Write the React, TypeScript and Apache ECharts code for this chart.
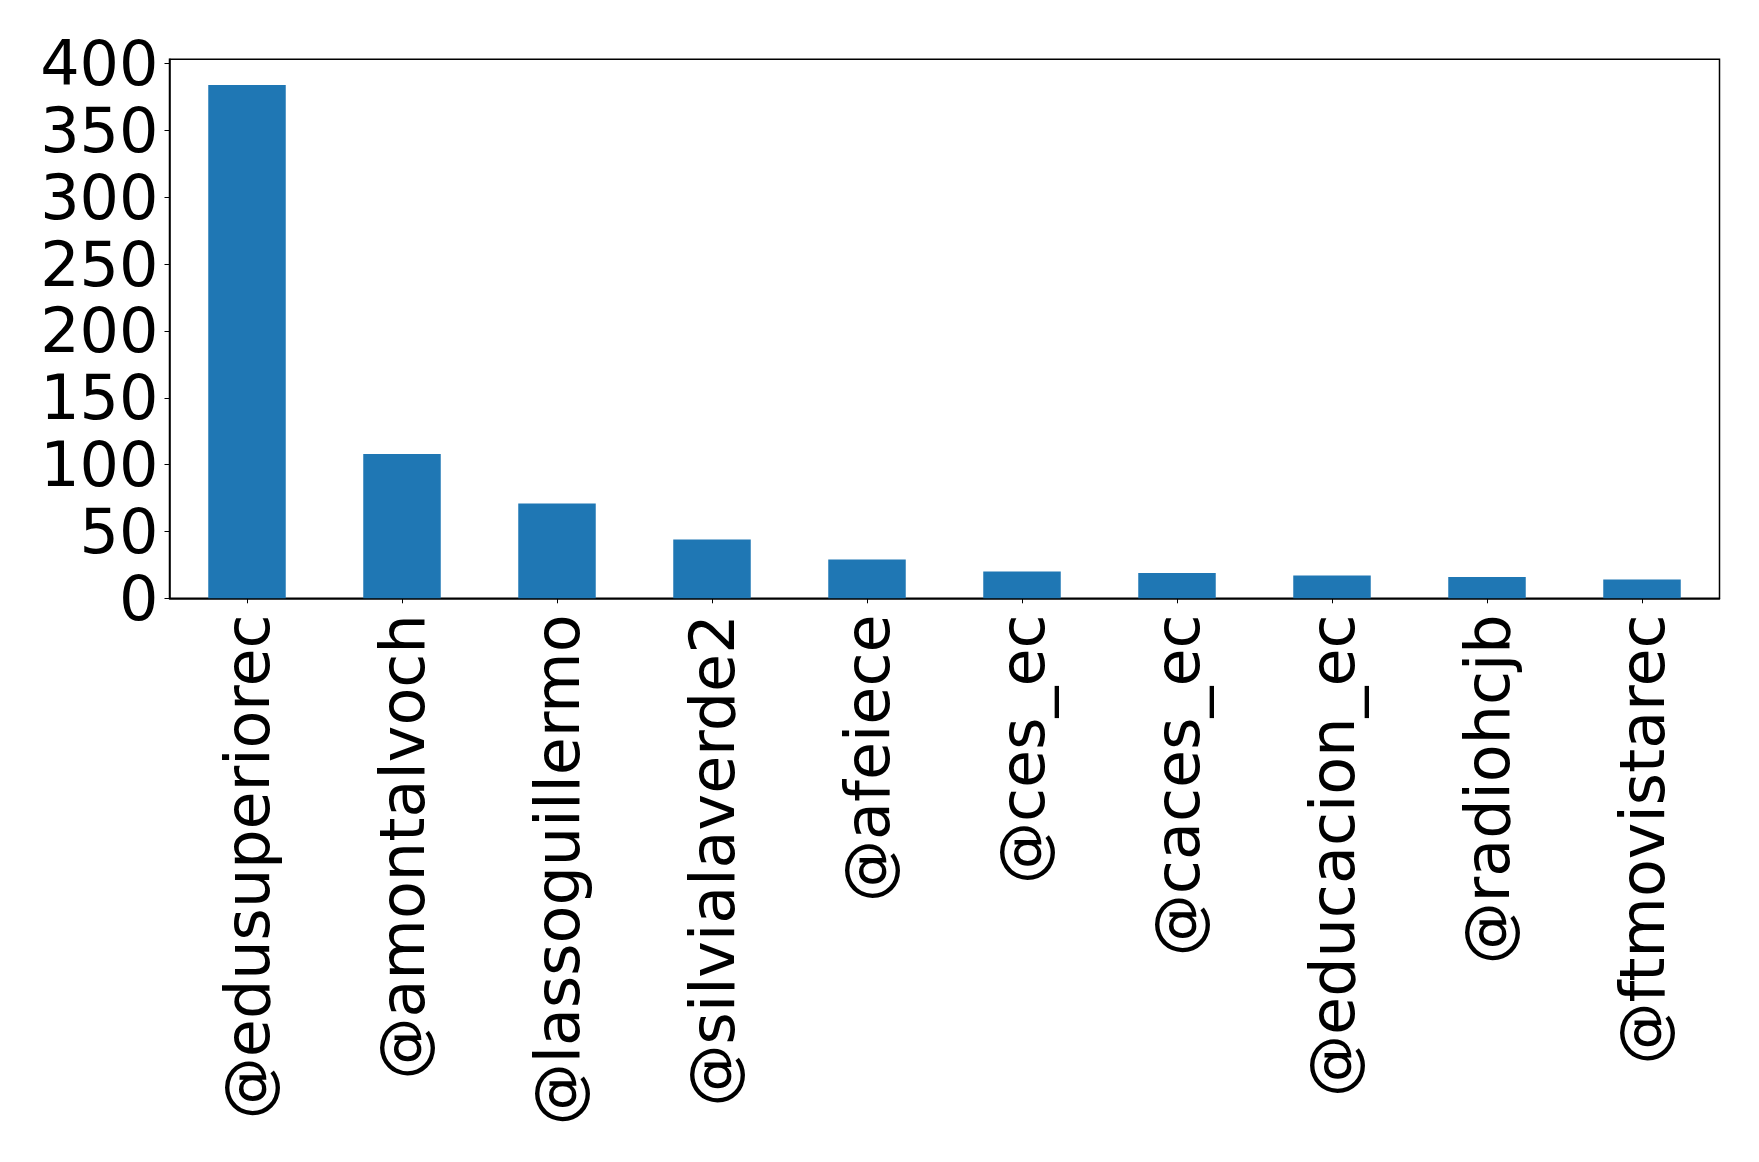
import React, { useEffect, useRef } from "react";
import * as echarts from "echarts";

const handles = [
  "@edusuperiorec",
  "@amontalvoch",
  "@lassoguillermo",
  "@silvialaverde2",
  "@afeiece",
  "@ces_ec",
  "@caces_ec",
  "@educacion_ec",
  "@radiohcjb",
  "@ftmovistarec",
];
const counts = [384, 108, 71, 44, 29, 20, 19, 17, 16, 14];
const yTicks = [0, 50, 100, 150, 200, 250, 300, 350, 400];

const BAR = "#1f77b4";
const FONT = "DejaVu Sans";

const App = () => {
  const chartRef = useRef<HTMLDivElement>(null);

  useEffect(() => {
    if (!chartRef.current) return;
    const chart = echarts.init(chartRef.current, null, { renderer: "svg" });

    chart.setOption({
      animation: false,
      backgroundColor: "#fff",
      grid: {
        left: 169.5,
        right: 39.5,
        top: 59.3,
        bottom: 563.7,
        show: true,
        borderColor: "#000",
        borderWidth: 1.5,
        containLabel: false,
      },
      xAxis: {
        type: "category",
        data: handles,
        boundaryGap: true,
        axisLine: { show: true, lineStyle: { color: "#000", width: 1.5 } },
        axisTick: {
          show: true,
          alignWithLabel: true,
          length: 5,
          lineStyle: { color: "#000", width: 1 },
        },
        axisLabel: {
          interval: 0,
          rotate: 90,
          margin: 16,
          color: "#000",
          fontSize: 62,
          fontFamily: FONT,
        },
        splitLine: { show: false },
      },
      yAxis: {
        type: "value",
        min: 0,
        max: Math.max(...counts) * 1.05,
        axisLine: { show: true, lineStyle: { color: "#000", width: 1.5 } },
        axisTick: {
          show: true,
          length: 5,
          customValues: yTicks,
          lineStyle: { color: "#000", width: 1 },
        },
        axisLabel: {
          customValues: yTicks,
          margin: 11,
          color: "#000",
          fontSize: 62,
          fontFamily: FONT,
        },
        splitLine: { show: false },
      },
      series: [
        {
          type: "bar",
          data: counts,
          barWidth: "50%",
          itemStyle: { color: BAR },
        },
      ],
    });

    return () => chart.dispose();
  }, []);

  return (
    <div
      ref={chartRef}
      style={{ position: "fixed", left: 0, top: 0, width: "1759px", height: "1162px" }}
    />
  );
};

export default App;
